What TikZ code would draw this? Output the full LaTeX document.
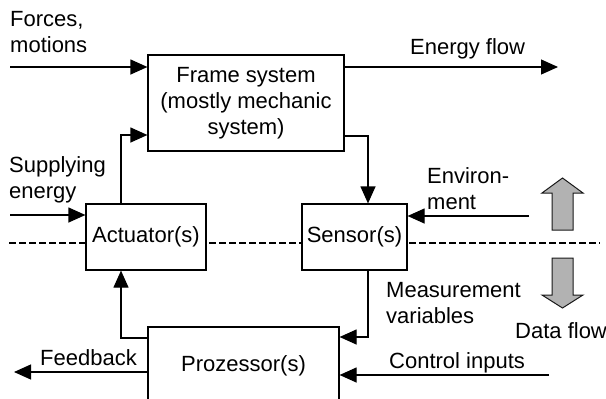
\documentclass[tikz,border=0pt]{standalone}
\usepackage{fontspec}
\setmainfont{Liberation Sans}
\usetikzlibrary{arrows.meta}
\begin{document}
\begin{tikzpicture}[x=1pt,y=-1pt,
  font=\fontsize{22}{26}\selectfont,
  box/.style={draw, line width=1.2pt, fill=white, inner sep=0pt, align=center},
  arr/.style={line width=1.2pt, -{Triangle[length=17pt,width=15pt]}},
  lbl/.style={inner sep=0pt, align=left},
  sep/.style={line width=1.2pt, dash pattern=on 6.5pt off 3.5pt},
  dataarrow/.style={fill=black!30, draw=black!90, line width=1pt}]
\clip (0,0) rectangle (606,399);
\fill[white] (0,0) rectangle (606,399);
% separator
\coordinate (dl) at (9,243);
\coordinate (dr) at (600,243);
\draw[sep] (dl) -- (dr);
% boxes
\node[box, minimum width=196pt, minimum height=96pt] (frame) at (246,103) {Frame system\\(mostly mechanic\\system)};
\node[box, minimum width=120pt, minimum height=66pt] (act) at (146,237) {Actuator(s)};
\node[box, minimum width=105pt, minimum height=66pt] (sens) at (354.5,237) {Sensor(s)};
\node[box, minimum width=191pt, minimum height=78pt] (proc) at (243.5,366) {Prozessor(s)};
% connectors
\coordinate (fin) at (10,67);
\draw[arr] (fin) -- (fin -| frame.west);
\coordinate (eout) at (558,67);
\draw[arr] (frame.east |- eout) -- (eout);
\coordinate (a1) at (121,135);
\draw[arr] (act.north -| a1) |- (frame.west |- a1);
\coordinate (sin) at (10,215);
\draw[arr] (sin) -- (sin -| act.west);
\coordinate (s1) at (368,136);
\draw[arr] (frame.east |- s1) -| (sens.north -| s1);
\coordinate (env) at (529,216);
\draw[arr] (env) -- (env -| sens.east);
\coordinate (m1) at (368,337);
\draw[arr] (sens.south -| m1) |- (proc.east |- m1);
\coordinate (cin) at (549,375);
\draw[arr] (cin) -- (cin -| proc.east);
\coordinate (p1) at (121,338);
\draw[arr] (proc.west |- p1) -| (act.south -| p1);
\coordinate (fb) at (14,372);
\draw[arr] (proc.west |- fb) -- (fb);
% data flow arrows
\draw[dataarrow] (562.5,178) -- (583,193) -- (573,193) -- (573,230) -- (552,230) -- (552,193) -- (542,193) -- cycle;
\draw[dataarrow] (552,258) -- (573,258) -- (573,295) -- (583,295) -- (562.5,308) -- (542,295) -- (552,295) -- cycle;
% labels
\node[lbl, anchor=north west] (lforces) at (10,11) {Forces,\\motions};
\node[lbl, anchor=base west] (lenergy) at (410,54) {Energy flow};
\node[lbl, anchor=north west] (lsupply) at (9,156) {Supplying\\energy};
\node[lbl, anchor=north west] (lenv) at (427,167) {Environ-\\ment};
\node[lbl, anchor=north west] (lmeas) at (386,282) {Measurement\\variables};
\node[lbl, anchor=base west] (ldata) at (515,338) {Data flow};
\node[lbl, anchor=base west] (lcontrol) at (389,368) {Control inputs};
\node[lbl, anchor=base west] (lfeed) at (40,365) {Feedback};
\end{tikzpicture}
\end{document}
